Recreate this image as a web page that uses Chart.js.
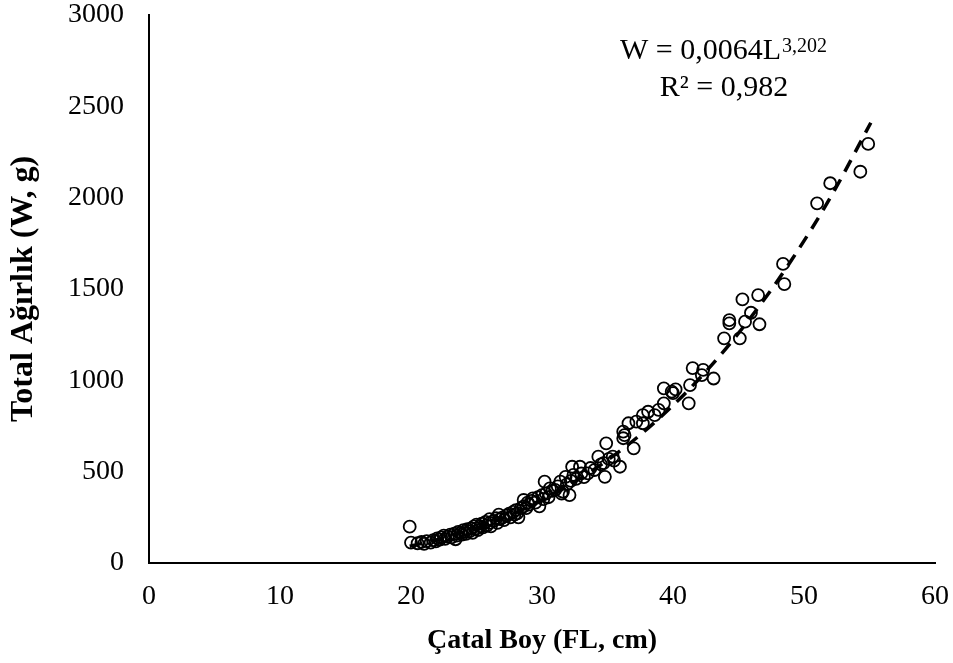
<!DOCTYPE html>
<html>
<head>
<meta charset="utf-8">
<script src="https://cdn.jsdelivr.net/npm/chart.js@4.4.0/dist/chart.umd.min.js"></script>
<style>
html,body{margin:0;padding:0;background:#fff;}
#wrap{position:relative;width:953px;height:663px;}
</style>
</head>
<body>
<div id="wrap"><canvas id="c" width="953" height="663"></canvas></div>
<script>
// Observed fish: fork length (cm) and total weight (g)
const lengthCm = [
 19.9,20.0,20.5,20.8,21.0,21.2,21.5,21.7,21.9,22.0,22.2,22.3,22.5,22.6,22.8,23.0,23.1,23.3,23.4,23.5,
 23.6,23.8,23.9,24.0,24.1,24.2,24.3,24.5,24.6,24.7,24.8,25.0,25.0,25.1,25.3,25.4,25.5,25.7,25.8,26.0,
 26.0,26.1,26.3,26.5,26.6,26.7,26.8,27.0,27.1,27.3,27.5,27.6,27.8,27.9,28.0,28.1,28.2,28.4,28.6,28.6,
 28.8,28.9,29.0,29.2,29.3,29.5,29.7,29.8,30.0,30.1,30.2,30.3,30.5,30.6,30.8,31.0,31.2,31.4,31.5,31.6,
 31.8,31.9,32.1,32.2,32.3,32.4,32.6,32.9,33.0,33.2,33.5,33.7,34.0,34.3,34.5,34.7,34.8,34.9,35.1,35.4,
 35.5,35.95,36.2,36.2,36.3,36.6,37.0,37.2,37.7,37.7,38.1,38.6,38.9,39.3,39.3,39.9,40.0,40.2,41.2,41.3,
 41.5,42.2,42.3,43.1,43.9,44.3,44.3,45.1,45.3,45.5,45.95,46.5,46.6,48.4,48.5,51.0,52.0,54.3,54.9
];
const weightG = [
 199,112,108,115,105,120,112,125,118,135,128,140,150,132,145,155,140,160,130,150,
 170,165,155,180,170,160,185,175,190,165,200,190,210,180,200,215,195,225,205,220,
 240,200,230,245,220,265,240,250,235,260,270,250,280,265,290,272,250,300,310,345,
 300,330,320,340,354,330,360,310,372,350,445,380,360,409,395,400,420,445,380,390,
 472,430,372,450,527,482,460,527,490,470,491,520,509,582,540,547,472,655,570,582,
 560,527,683,719,700,765,628,774,765,810,828,810,838,874,956,938,930,950,874,974,
 1067,1029,1057,1010,1230,1312,1330,1230,1443,1321,1370,1467,1307,1637,1527,1969,2079,2142,2294
];
// Fitted power curve W = 0,0064 L^3,202
const trendLength = [19.9, 22, 25, 28, 31, 34, 37, 40, 43, 46, 49, 52, 55.1];
const trendWeight = [92, 127, 192, 276, 382, 513, 672, 863, 1087, 1350, 1653, 1999, 2410];
const xTickValues = [0, 10, 20, 30, 40, 50, 60];
const yTickValues = [0, 500, 1000, 1500, 2000, 2500, 3000];
const equationText = "W = 0,0064L";
const equationExp = "3,202";
const r2Text = "R\u00B2 = 0,982";
const xTitle = "\u00C7atal Boy (FL, cm)";
const yTitle = "Total A\u011F\u0131rl\u0131k (W, g)";

const serif = "'Liberation Serif', 'Times New Roman', serif";

const eqPlugin = {
  id: 'eq',
  afterDraw(chart) {
    const ctx = chart.ctx;
    ctx.save();
    ctx.fillStyle = '#000';
    ctx.textBaseline = 'alphabetic';
    ctx.textAlign = 'left';
    ctx.font = "30px " + serif;
    ctx.fillText(equationText, 620, 59);
    const w = ctx.measureText(equationText).width;
    ctx.font = "20px " + serif;
    ctx.fillText(equationExp, 620 + w + 1, 52);
    ctx.font = "30px " + serif;
    ctx.textAlign = 'center';
    ctx.fillText(r2Text, 724, 96);
    ctx.restore();
  }
};

function zeroPad(s) { s.paddingTop = 0; s.paddingBottom = 0; s.paddingLeft = 0; s.paddingRight = 0; }

new Chart(document.getElementById('c'), {
  type: 'scatter',
  data: {
    datasets: [
      {
        type: 'line',
        data: trendLength.map((x, i) => ({x, y: trendWeight[i]})),
        borderColor: '#000',
        borderWidth: 3.5,
        borderDash: [13, 9],
        cubicInterpolationMode: 'monotone',
        pointRadius: 0,
        fill: false
      },
      {
        data: lengthCm.map((x, i) => ({x, y: weightG[i]})),
        pointStyle: 'circle',
        pointRadius: 6,
        pointBorderWidth: 1.8,
        pointBorderColor: '#000',
        pointBackgroundColor: 'rgba(0,0,0,0)',
        showLine: false
      }
    ]
  },
  options: {
    responsive: false,
    animation: false,
    layout: { padding: { left: 0, right: 18, top: 15, bottom: 0 } },
    plugins: { legend: { display: false }, tooltip: { enabled: false } },
    scales: {
      x: {
        type: 'linear', min: 0, max: 60,
        afterBuildTicks: s => { s.ticks = xTickValues.map(v => ({value: v})); },
        afterFit: s => { s.height = 100; zeroPad(s); },
        grid: { display: false, drawTicks: false },
        border: { display: true, color: '#000', width: 2 },
        ticks: { color: '#000', font: { family: serif, size: 28 }, padding: 17, maxRotation: 0, callback: v => String(v) },
        title: { display: true, text: xTitle, color: '#000', font: { family: serif, size: 28, weight: 'bold' }, padding: { top: 0, bottom: 5 } }
      },
      y: {
        type: 'linear', min: 0, max: 3000,
        afterBuildTicks: s => { s.ticks = yTickValues.map(v => ({value: v})); },
        afterFit: s => { s.width = 149; zeroPad(s); },
        grid: { display: false, drawTicks: false },
        border: { display: true, color: '#000', width: 2 },
        ticks: { color: '#000', font: { family: serif, size: 28 }, padding: 25, callback: v => String(v) },
        title: { display: true, text: yTitle, color: '#000', font: { family: serif, size: 32, weight: 'bold' }, padding: { top: 5, bottom: 0 } }
      }
    }
  },
  plugins: [eqPlugin]
});
</script>
</body>
</html>
